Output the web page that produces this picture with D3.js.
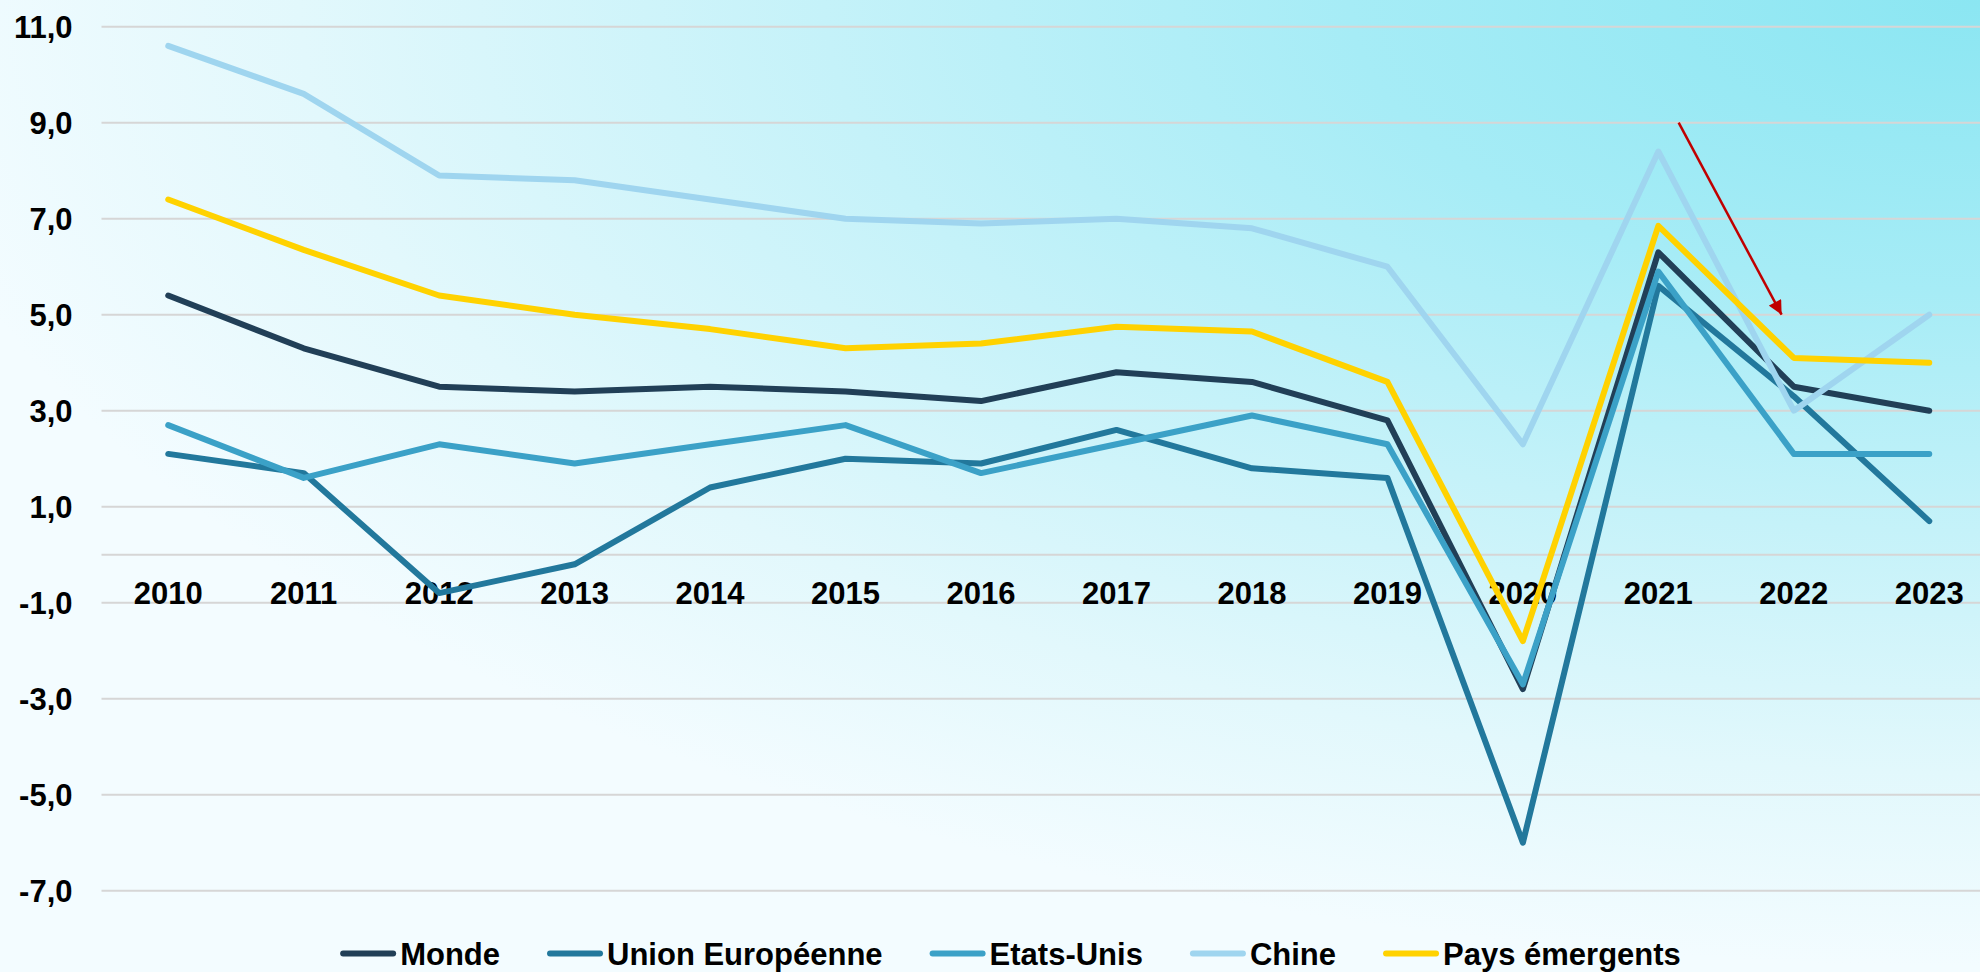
<!DOCTYPE html>
<html lang="fr">
<head>
<meta charset="utf-8">
<title>Croissance du PIB 2010-2023</title>
<script src="https://cdn.jsdelivr.net/npm/d3@7"></script>
<style>
  html, body { margin: 0; padding: 0; background: #eefbfe; }
  svg { display: block; }
  text { font-family: "Liberation Sans", Arial, sans-serif; font-weight: bold; fill: #000; }
</style>
</head>
<body>
<svg id="chart"></svg>
<script>
// Croissance annuelle du PIB (%), 2010-2023
const years = ["2010", "2011", "2012", "2013", "2014", "2015", "2016", "2017", "2018", "2019", "2020", "2021", "2022", "2023"];
const monde = [5.4, 4.3, 3.5, 3.4, 3.5, 3.4, 3.2, 3.8, 3.6, 2.8, -2.8, 6.3, 3.5, 3.0];
const unionEuropeenne = [2.1, 1.7, -0.8, -0.2, 1.4, 2.0, 1.9, 2.6, 1.8, 1.6, -6.0, 5.6, 3.3, 0.7];
const etatsUnis = [2.7, 1.6, 2.3, 1.9, 2.3, 2.7, 1.7, 2.3, 2.9, 2.3, -2.7, 5.9, 2.1, 2.1];
const chine = [10.6, 9.6, 7.9, 7.8, 7.4, 7.0, 6.9, 7.0, 6.8, 6.0, 2.3, 8.4, 3.0, 5.0];
const paysEmergents = [7.4, 6.35, 5.4, 5.0, 4.7, 4.3, 4.4, 4.75, 4.65, 3.6, -1.8, 6.85, 4.1, 4.0];

const seriesNames = ["Monde", "Union Européenne", "Etats-Unis", "Chine", "Pays émergents"];
const seriesValues = [monde, unionEuropeenne, etatsUnis, chine, paysEmergents];
const yTicks = [-7, -5, -3, -1, 1, 3, 5, 7, 9, 11];

// red arrow annotation: [year index, value]
const arrowFrom = [11.15, 9.0];
const arrowTo = [11.91, 5.0];

const COLORS = ["#213f57", "#22789c", "#3ba1c7", "#9fd5ef", "#ffd200"];

const W = 1980, H = 972;
const svg = d3.select("#chart").attr("width", W).attr("height", H);

// background wash: cyan at top-right fading to near white (left and bottom)
const defs = svg.append("defs");
const bg = defs.append("radialGradient").attr("id", "bg")
  .attr("gradientUnits", "userSpaceOnUse")
  .attr("cx", 1980).attr("cy", 0).attr("r", 2100)
  .attr("gradientTransform", "translate(1980,0) scale(1,0.46) translate(-1980,0)");
[["0", "#8be6f2"], ["0.3", "#a6ecf6"], ["0.55", "#c5f2f9"], ["0.8", "#e2f8fc"], ["1", "#f3fcff"]]
  .forEach(([o, c]) => bg.append("stop").attr("offset", o).attr("stop-color", c));
svg.append("rect").attr("width", W).attr("height", H).attr("fill", "url(#bg)");

defs.append("marker").attr("id", "head")
  .attr("markerUnits", "userSpaceOnUse")
  .attr("viewBox", "0 0 10 10").attr("refX", 10).attr("refY", 5)
  .attr("markerWidth", 15).attr("markerHeight", 14)
  .attr("orient", "auto")
  .append("path").attr("d", "M0,0L10,5L0,10Z").attr("fill", "#c00000");

// scales
const plotLeft = 100.5, plotRight = 1997;
const x = d3.scaleBand().domain(years).range([plotLeft, plotRight]);
const xc = (yr) => x(yr) + x.bandwidth() / 2;
const xi = d3.scaleLinear().domain([0, years.length - 1]).range([xc(years[0]), xc(years[years.length - 1])]);
const y = d3.scaleLinear().domain([-7, 11]).range([890.7, 26.7]);

const fr = d3.formatLocale({ decimal: ",", thousands: " ", grouping: [3], currency: ["", " €"], minus: "-" });
const fmt = fr.format(".1f");

// gridlines (odd values + zero line)
svg.append("g").selectAll("line").data(yTicks.concat([0])).join("line")
  .attr("x1", plotLeft + 1).attr("x2", W)
  .attr("y1", (d) => y(d)).attr("y2", (d) => y(d))
  .attr("stroke", "#d6d6d6").attr("stroke-width", 2);

// y axis labels
const yAxis = svg.append("g").attr("transform", `translate(${plotLeft + 1},0)`)
  .call(d3.axisLeft(y).tickValues(yTicks).tickSize(0).tickPadding(29).tickFormat(fmt));
yAxis.select(".domain").remove();
yAxis.selectAll("text").attr("font-size", 31).attr("font-family", null).attr("dy", "0.36em");

// x axis labels sit along the zero line
const xAxis = svg.append("g").attr("transform", `translate(0,${y(0)})`)
  .call(d3.axisBottom(x).tickSize(0).tickPadding(27));
xAxis.select(".domain").remove();
xAxis.selectAll("text").attr("font-size", 31).attr("font-family", null);

// series lines
const line = d3.line().x((d, i) => xc(years[i])).y((d) => y(d));
svg.append("g").selectAll("path").data(seriesValues).join("path")
  .attr("d", line)
  .attr("fill", "none")
  .attr("stroke", (d, i) => COLORS[i])
  .attr("stroke-width", 6)
  .attr("stroke-linejoin", "round")
  .attr("stroke-linecap", "round");

// arrow
svg.append("line")
  .attr("x1", xi(arrowFrom[0])).attr("y1", y(arrowFrom[1]))
  .attr("x2", xi(arrowTo[0])).attr("y2", y(arrowTo[1]))
  .attr("stroke", "#c00000").attr("stroke-width", 2.5)
  .attr("marker-end", "url(#head)");

// legend, laid out left to right then centred
const legend = svg.append("g");
const swatch = 56, textGap = 4, itemGap = 47;
let cursor = 0;
seriesNames.forEach((name, i) => {
  const g = legend.append("g").attr("transform", `translate(${cursor},0)`);
  g.append("line").attr("x1", 3).attr("x2", swatch - 3).attr("y1", -11.5).attr("y2", -11.5)
    .attr("stroke", COLORS[i]).attr("stroke-width", 6).attr("stroke-linecap", "round");
  const t = g.append("text").attr("x", swatch + textGap).attr("y", 0).attr("font-size", 31).text(name);
  cursor += swatch + textGap + t.node().getComputedTextLength() + itemGap;
});
const legendW = cursor - itemGap;
legend.attr("transform", `translate(${1010.5 - legendW / 2},965)`);
</script>
</body>
</html>
